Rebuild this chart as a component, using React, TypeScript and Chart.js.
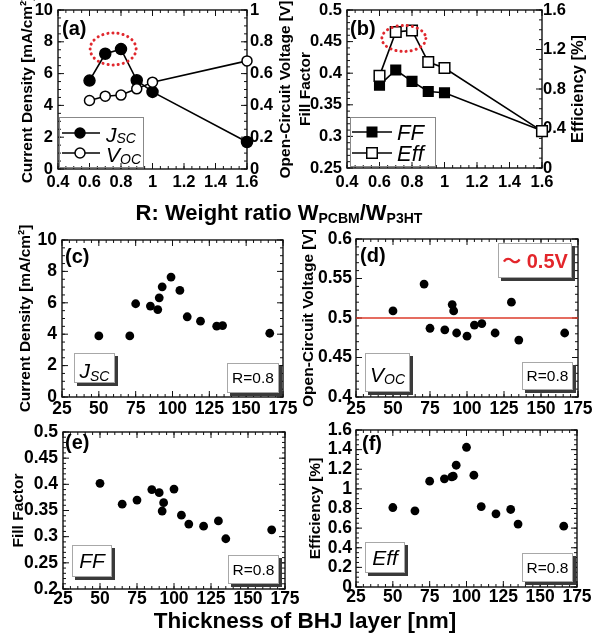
import React, { useEffect, useRef } from "react";
import { Chart, registerables } from "chart.js";

Chart.register(...registerables);

const FONT = '"Liberation Sans", Arial, Helvetica, sans-serif';
const PAGE_W = 600;
const PAGE_H = 634;

// ---------------- data ----------------
// (a), (b): vs weight ratio R
const ratioR = [0.6, 0.7, 0.8, 0.9, 1.0, 1.6];
const jscVsRatio = [5.56, 7.25, 7.54, 5.58, 4.85, 1.7];
const vocVsRatio = [0.431, 0.458, 0.465, 0.504, 0.546, 0.68];
const ffVsRatio = [0.381, 0.405, 0.387, 0.371, 0.369, 0.309];
const effVsRatio = [0.933, 1.377, 1.393, 1.073, 1.013, 0.373];

// (c)-(f): vs BHJ thickness (R = 0.8)
const thicknessJsc = [50, 71, 75, 85, 90, 91, 93, 99, 105, 110, 119, 130, 134, 166];
const jscVsThickness = [3.89, 3.89, 5.94, 5.79, 5.57, 6.32, 7.02, 7.64, 6.79, 5.11, 4.83, 4.51, 4.55, 4.06];
const thicknessVoc = [50, 71, 75, 85, 90, 91, 93, 100, 105, 110, 119, 130, 135, 166];
const vocVsThickness = [0.509, 0.543, 0.487, 0.485, 0.517, 0.509, 0.481, 0.477, 0.491, 0.493, 0.481, 0.52, 0.472, 0.481];
const thicknessFF = [50, 65, 75, 85, 90, 92, 93, 100, 105, 110, 120, 130, 135, 166];
const ffVsThickness = [0.402, 0.362, 0.37, 0.39, 0.384, 0.349, 0.365, 0.391, 0.341, 0.324, 0.32, 0.33, 0.296, 0.313];
const thicknessEff = [50, 65, 75, 85, 90, 91, 93, 100, 105, 110, 120, 130, 135, 166];
const effVsThickness = [0.81, 0.776, 1.078, 1.102, 1.122, 1.129, 1.241, 1.424, 1.139, 0.82, 0.746, 0.79, 0.641, 0.62];
const vocReferenceLine = 0.5;

// axis ranges: [min, max, major step, minor step]
const ratioAxis = [0.4, 1.6, 0.2, 0.05];
const thicknessAxis = [25, 175, 25, 5];
const jscAxis = [0, 10, 2, 0.5];
const vocRatioAxis = [0, 1, 0.2, 0.05];
const ffRatioAxis = [0.25, 0.5, 0.05, 0.01];
const effRatioAxis = [0, 1.6, 0.4, 0.1];
const vocAxis = [0.4, 0.6, 0.05, 0.01];
const ffAxis = [0.2, 0.5, 0.05, 0.01];
const effAxis = [0, 1.6, 0.2, 0.05];

// ---------------- helpers ----------------
const AXW = 40;
const AXH = 30;

const pts = (xs: number[], ys: number[]) => xs.map((x, i) => ({ x, y: ys[i] }));
const fmt = (v: any) => String(Number(Number(v).toFixed(4)));
const fnt = (size: number, weight = "normal", style = "normal", family = FONT) =>
  `${style} ${weight} ${size}px ${family}`;

type Part = { t: string; size: number; weight?: string; style?: string; dy?: number; color?: string; family?: string };

function drawRich(ctx: CanvasRenderingContext2D, parts: Part[], x: number, y: number, align: "left" | "center") {
  ctx.save();
  ctx.textBaseline = "alphabetic";
  ctx.textAlign = "left";
  let w = 0;
  for (const p of parts) {
    ctx.font = fnt(p.size, p.weight, p.style, p.family);
    w += ctx.measureText(p.t).width;
  }
  let cx = align === "center" ? x - w / 2 : x;
  for (const p of parts) {
    ctx.font = fnt(p.size, p.weight, p.style, p.family);
    ctx.fillStyle = p.color || "#000";
    ctx.fillText(p.t, cx, y + (p.dy || 0));
    cx += ctx.measureText(p.t).width;
  }
  ctx.restore();
}

function drawRotated(ctx: CanvasRenderingContext2D, text: string, cx: number, cy: number, size: number) {
  ctx.save();
  ctx.translate(cx, cy);
  ctx.rotate(-Math.PI / 2);
  ctx.font = fnt(size, "bold");
  ctx.fillStyle = "#000";
  ctx.textAlign = "center";
  ctx.textBaseline = "middle";
  ctx.fillText(text, 0, 0);
  ctx.restore();
}

function drawTicks(ctx: CanvasRenderingContext2D, scale: any, a: any, side: string, minor: number, mirror: boolean) {
  const items: [number, number][] = [];
  const n = Math.round((scale.max - scale.min) / minor);
  for (let i = 0; i <= n; i++) items.push([scale.min + i * minor, 3]);
  scale.ticks.forEach((t: any) => items.push([t.value, 6]));
  ctx.beginPath();
  for (const [v, len] of items) {
    const p = scale.getPixelForValue(v);
    if (side === "bottom") {
      ctx.moveTo(p, a.bottom);
      ctx.lineTo(p, a.bottom - len);
      if (mirror) {
        ctx.moveTo(p, a.top);
        ctx.lineTo(p, a.top + len);
      }
    } else if (side === "left") {
      ctx.moveTo(a.left, p);
      ctx.lineTo(a.left + len, p);
      if (mirror) {
        ctx.moveTo(a.right, p);
        ctx.lineTo(a.right - len, p);
      }
    } else {
      ctx.moveTo(a.right, p);
      ctx.lineTo(a.right - len, p);
    }
  }
  ctx.stroke();
}

function shadowBox(ctx: CanvasRenderingContext2D, x: number, y: number, w: number, h: number) {
  ctx.save();
  ctx.fillStyle = "#3a3a3a";
  ctx.fillRect(x + 3, y + 3, w, h);
  ctx.fillStyle = "#fff";
  ctx.fillRect(x, y, w, h);
  ctx.strokeStyle = "#a8a8a8";
  ctx.lineWidth = 1;
  ctx.strokeRect(x + 0.5, y + 0.5, w - 1, h - 1);
  ctx.restore();
}

function panelLabel(ctx: CanvasRenderingContext2D, text: string, x: number, y: number) {
  ctx.save();
  ctx.font = fnt(20, "bold");
  ctx.fillStyle = "#000";
  ctx.textAlign = "left";
  ctx.textBaseline = "middle";
  ctx.fillText(text, x, y);
  ctx.restore();
}

function rBox(ctx: CanvasRenderingContext2D, x: number, y: number, w: number, h: number) {
  shadowBox(ctx, x, y, w, h);
  ctx.save();
  ctx.font = fnt(15.5);
  ctx.fillStyle = "#000";
  ctx.textAlign = "center";
  ctx.textBaseline = "middle";
  ctx.fillText("R=0.8", x + w / 2, y + h / 2 + 1);
  ctx.restore();
}

function redEllipse(ctx: CanvasRenderingContext2D, cx: number, cy: number, rx: number, ry: number) {
  ctx.save();
  ctx.strokeStyle = "#e0282e";
  ctx.lineWidth = 3;
  ctx.lineCap = "round";
  ctx.setLineDash([0.1, 5]);
  ctx.beginPath();
  ctx.ellipse(cx, cy, rx, ry, 0, 0, Math.PI * 2);
  ctx.stroke();
  ctx.restore();
}

type Spec = {
  rect: { L: number; T: number; R: number; B: number };
  x: number[];
  y: number[];
  y2?: number[];
  tickSize: number;
  xPad: number;
  yPad: number;
  y2Pad?: number;
  yTitle: string;
  yTitleX: number;
  yTitleSize: number;
  y2Title?: string;
  y2TitleX?: number;
  y2TitleSize?: number;
  datasets: any[];
  draw: (ctx: CanvasRenderingContext2D, chart: any) => void;
};

function makeChart(canvas: HTMLCanvasElement, spec: Spec) {
  const { rect } = spec;
  const hasY2 = !!spec.y2;
  const tickFont = { family: FONT, size: spec.tickSize, weight: "bold" };
  const mk = (pos: string, r: number[], pad: number) => ({
    type: "linear",
    position: pos,
    min: r[0],
    max: r[1],
    grid: { display: false, drawTicks: false },
    border: { display: false },
    ticks: {
      stepSize: r[2],
      autoSkip: false,
      maxRotation: 0,
      minRotation: 0,
      padding: pad,
      color: "#000",
      font: tickFont,
      callback: (v: any) => fmt(v),
    },
    afterFit: (s: any) => {
      if (pos === "bottom") s.height = AXH;
      else s.width = AXW;
      s.paddingLeft = 0;
      s.paddingRight = 0;
      s.paddingTop = 0;
      s.paddingBottom = 0;
    },
  });
  const scales: any = { x: mk("bottom", spec.x, spec.xPad), y: mk("left", spec.y, spec.yPad) };
  if (hasY2) scales.y2 = mk("right", spec.y2 as number[], spec.y2Pad ?? 3);

  const decor = {
    id: "decor",
    beforeDatasetsDraw(chart: any) {
      const ctx = chart.ctx;
      const a = chart.chartArea;
      ctx.save();
      ctx.strokeStyle = "#111";
      ctx.lineWidth = 1.4;
      ctx.strokeRect(a.left, a.top, a.right - a.left, a.bottom - a.top);
      ctx.lineWidth = 1;
      drawTicks(ctx, chart.scales.x, a, "bottom", spec.x[3], true);
      drawTicks(ctx, chart.scales.y, a, "left", spec.y[3], !hasY2);
      if (hasY2) drawTicks(ctx, chart.scales.y2, a, "right", (spec.y2 as number[])[3], false);
      ctx.restore();
      const cy = (a.top + a.bottom) / 2;
      drawRotated(ctx, spec.yTitle, spec.yTitleX, cy, spec.yTitleSize);
      if (spec.y2Title) drawRotated(ctx, spec.y2Title, spec.y2TitleX as number, cy, spec.y2TitleSize as number);
    },
    afterDatasetsDraw(chart: any) {
      spec.draw(chart.ctx, chart);
    },
  };

  return new Chart(canvas, {
    type: "scatter",
    data: { datasets: spec.datasets },
    options: {
      responsive: false,
      maintainAspectRatio: false,
      animation: false,
      devicePixelRatio: 1,
      events: [],
      layout: {
        padding: {
          left: rect.L - AXW,
          top: rect.T,
          right: PAGE_W - rect.R - (hasY2 ? AXW : 0),
          bottom: PAGE_H - rect.B - AXH,
        },
      },
      scales,
      plugins: { legend: { display: false }, tooltip: { enabled: false } },
    } as any,
    plugins: [decor],
  } as any);
}

const lineDs = (data: any[], yAxisID: string, filled: boolean, style: string, radius: number) => ({
  data,
  yAxisID,
  showLine: true,
  borderColor: "#000",
  borderWidth: 1.6,
  pointStyle: style,
  pointRadius: radius,
  pointBackgroundColor: filled ? "#000" : "#fff",
  pointBorderColor: "#000",
  pointBorderWidth: 1.5,
  clip: false,
});

const dotDs = (data: any[]) => ({
  data,
  showLine: false,
  pointStyle: "circle",
  pointRadius: 4.4,
  pointBackgroundColor: "#000",
  pointBorderColor: "#000",
  pointBorderWidth: 0,
  clip: false,
});

// ---------------- panel specs ----------------
const specA: Spec = {
  rect: { L: 58, T: 10, R: 247, B: 169 },
  x: ratioAxis,
  y: jscAxis,
  y2: vocRatioAxis,
  tickSize: 16.5,
  xPad: 4,
  yPad: 5,
  y2Pad: 3,
  yTitle: "Current Density [mA/cm²]",
  yTitleX: 28,
  yTitleSize: 15.5,
  y2Title: "Open-Circuit Voltage [V]",
  y2TitleX: 286,
  y2TitleSize: 15.5,
  datasets: [
    lineDs(pts(ratioR, vocVsRatio), "y2", false, "circle", 5),
    lineDs(pts(ratioR, jscVsRatio), "y", true, "circle", 5.5),
  ],
  draw: (ctx, chart) => {
    const a = chart.chartArea;
    panelLabel(ctx, "(a)", a.left + 4, a.top + 19);
    redEllipse(ctx, chart.scales.x.getPixelForValue(0.75), chart.scales.y.getPixelForValue(7.55), 23, 16);
    // legend
    ctx.save();
    ctx.strokeStyle = "#888";
    ctx.lineWidth = 1;
    ctx.strokeRect(a.left + 1.5, a.bottom - 51.5, 84, 50);
    const rows = [
      { y: a.bottom - 36, filled: true, main: "J", sub: "SC", dy: 1 },
      { y: a.bottom - 16, filled: false, main: "V", sub: "OC", dy: 2 },
    ];
    for (const r of rows) {
      ctx.strokeStyle = "#000";
      ctx.lineWidth = 1.6;
      ctx.beginPath();
      ctx.moveTo(a.left + 4, r.y);
      ctx.lineTo(a.left + 42, r.y);
      ctx.stroke();
      ctx.beginPath();
      ctx.arc(a.left + 22, r.y, 5, 0, Math.PI * 2);
      ctx.fillStyle = r.filled ? "#000" : "#fff";
      ctx.fill();
      ctx.lineWidth = 1.5;
      ctx.stroke();
      drawRich(
        ctx,
        [
          { t: r.main, size: 21, style: "italic" },
          { t: r.sub, size: 14, style: "italic", dy: r.dy },
        ],
        a.left + 48,
        r.y + 9,
        "left"
      );
    }
    ctx.restore();
    // shared axis title for (a),(b)
    drawRich(
      ctx,
      [
        { t: "R: Weight ratio W", size: 22, weight: "bold" },
        { t: "PCBM", size: 14, weight: "bold", dy: 3 },
        { t: "/W", size: 22, weight: "bold" },
        { t: "P3HT", size: 14, weight: "bold", dy: 3 },
      ],
      279,
      220,
      "center"
    );
  },
};

const specB: Spec = {
  rect: { L: 347, T: 10, R: 542, B: 168 },
  x: ratioAxis,
  y: ffRatioAxis,
  y2: effRatioAxis,
  tickSize: 16.5,
  xPad: 5,
  yPad: 5,
  y2Pad: 1,
  yTitle: "Fill Factor",
  yTitleX: 306,
  yTitleSize: 15.5,
  y2Title: "Efficiency [%]",
  y2TitleX: 578,
  y2TitleSize: 16.5,
  datasets: [
    lineDs(pts(ratioR, effVsRatio), "y2", false, "rect", 7.5),
    lineDs(pts(ratioR, ffVsRatio), "y", true, "rect", 6.8),
  ],
  draw: (ctx, chart) => {
    const a = chart.chartArea;
    panelLabel(ctx, "(b)", a.left + 3, a.top + 19);
    redEllipse(ctx, chart.scales.x.getPixelForValue(0.75), chart.scales.y.getPixelForValue(0.455), 22, 13);
    ctx.save();
    ctx.strokeStyle = "#888";
    ctx.lineWidth = 1;
    ctx.strokeRect(a.left + 3.5, a.bottom - 50.5, 85, 49);
    const rows = [
      { y: a.bottom - 36, filled: true, text: "FF" },
      { y: a.bottom - 15, filled: false, text: "Eff" },
    ];
    for (const r of rows) {
      ctx.strokeStyle = "#000";
      ctx.lineWidth = 1.6;
      ctx.beginPath();
      ctx.moveTo(a.left + 5, r.y);
      ctx.lineTo(a.left + 45, r.y);
      ctx.stroke();
      const s = r.filled ? 9.5 : 10.5;
      ctx.fillStyle = r.filled ? "#000" : "#fff";
      ctx.fillRect(a.left + 25 - s / 2, r.y - s / 2, s, s);
      ctx.lineWidth = 1.5;
      ctx.strokeRect(a.left + 25 - s / 2, r.y - s / 2, s, s);
      drawRich(ctx, [{ t: r.text, size: 22, style: "italic" }], a.left + 50, r.y + 8, "left");
    }
    ctx.restore();
  },
};

const specC: Spec = {
  rect: { L: 62, T: 240, R: 283, B: 397 },
  x: thicknessAxis,
  y: jscAxis,
  tickSize: 17.5,
  xPad: 2,
  yPad: 5,
  yTitle: "Current Density [mA/cm²]",
  yTitleX: 26,
  yTitleSize: 15.5,
  datasets: [dotDs(pts(thicknessJsc, jscVsThickness))],
  draw: (ctx, chart) => {
    const a = chart.chartArea;
    panelLabel(ctx, "(c)", a.left + 3, a.top + 17);
    const bx = a.left + 12, by = a.top + 113, bw = 41, bh = 30;
    shadowBox(ctx, bx, by, bw, bh);
    drawRich(
      ctx,
      [
        { t: "J", size: 21, style: "italic" },
        { t: "SC", size: 14, style: "italic", dy: 3 },
      ],
      bx + bw / 2,
      by + 25,
      "center"
    );
    rBox(ctx, a.left + 165, a.top + 123, 52, 30);
  },
};

const specD: Spec = {
  rect: { L: 356, T: 239, R: 578, B: 397 },
  x: thicknessAxis,
  y: vocAxis,
  tickSize: 17.5,
  xPad: 1.5,
  yPad: 4,
  yTitle: "Open-Circuit Voltage [V]",
  yTitleX: 309,
  yTitleSize: 15.5,
  datasets: [
    dotDs(pts(thicknessVoc, vocVsThickness)),
    {
      data: [
        { x: thicknessAxis[0], y: vocReferenceLine },
        { x: thicknessAxis[1], y: vocReferenceLine },
      ],
      showLine: true,
      pointRadius: 0,
      borderColor: "#dc3b2b",
      borderWidth: 1.6,
      clip: false,
    },
  ],
  draw: (ctx, chart) => {
    const a = chart.chartArea;
    panelLabel(ctx, "(d)", a.left + 4, a.top + 17);
    const bx = a.left + 9, by = a.top + 114, bw = 45, bh = 39;
    shadowBox(ctx, bx, by, bw, bh);
    drawRich(
      ctx,
      [
        { t: "V", size: 21, style: "italic" },
        { t: "OC", size: 14, style: "italic", dy: 2 },
      ],
      bx + bw / 2,
      by + 29,
      "center"
    );
    rBox(ctx, a.left + 166, a.top + 123, 51, 28);
    const tx = a.left + 142, ty = a.top + 4, tw = 74, th = 35;
    shadowBox(ctx, tx, ty, tw, th);
    drawRich(
      ctx,
      [
        { t: "〜", size: 19, weight: "bold", color: "#e3262b", family: '"Noto Sans CJK JP", "Noto Sans CJK SC", sans-serif' },
        { t: " 0.5V", size: 20, weight: "bold", color: "#e3262b" },
      ],
      tx + tw / 2,
      ty + 25,
      "center"
    );
  },
};

const specE: Spec = {
  rect: { L: 63, T: 432, R: 285, B: 589 },
  x: thicknessAxis,
  y: ffAxis,
  tickSize: 17.5,
  xPad: 0,
  yPad: 5,
  yTitle: "Fill Factor",
  yTitleX: 19,
  yTitleSize: 15.5,
  datasets: [dotDs(pts(thicknessFF, ffVsThickness))],
  draw: (ctx, chart) => {
    const a = chart.chartArea;
    panelLabel(ctx, "(e)", a.left + 2, a.top + 11);
    const bx = a.left + 9, by = a.top + 113, bw = 40, bh = 32;
    shadowBox(ctx, bx, by, bw, bh);
    drawRich(ctx, [{ t: "FF", size: 21, style: "italic" }], bx + bw / 2, by + 23, "center");
    rBox(ctx, a.left + 165, a.top + 123, 51, 29);
    // shared axis title for (c)-(f)
    drawRich(ctx, [{ t: "Thickness of BHJ layer [nm]", size: 22.5, weight: "bold" }], 305, 628, "center");
  },
};

const specF: Spec = {
  rect: { L: 356, T: 430, R: 577, B: 587 },
  x: thicknessAxis,
  y: effAxis,
  tickSize: 17.5,
  xPad: 0,
  yPad: 4,
  yTitle: "Efficiency [%]",
  yTitleX: 316,
  yTitleSize: 15.5,
  datasets: [dotDs(pts(thicknessEff, effVsThickness))],
  draw: (ctx, chart) => {
    const a = chart.chartArea;
    panelLabel(ctx, "(f)", a.left + 6, a.top + 14);
    const bx = a.left + 9, by = a.top + 112, bw = 40, bh = 31;
    shadowBox(ctx, bx, by, bw, bh);
    drawRich(ctx, [{ t: "Eff", size: 21, style: "italic" }], bx + bw / 2, by + 23, "center");
    rBox(ctx, a.left + 166, a.top + 123, 51, 29);
  },
};

function Panel({ spec }: { spec: Spec }) {
  const ref = useRef<HTMLCanvasElement>(null);
  useEffect(() => {
    const chart = makeChart(ref.current as HTMLCanvasElement, spec);
    return () => chart.destroy();
  }, [spec]);
  return (
    <canvas
      ref={ref}
      width={PAGE_W}
      height={PAGE_H}
      style={{ position: "absolute", left: 0, top: 0, width: PAGE_W, height: PAGE_H }}
    />
  );
}

export default function App() {
  return (
    <div style={{ position: "fixed", left: 0, top: 0, width: PAGE_W, height: PAGE_H, background: "#fff" }}>
      <Panel spec={specA} />
      <Panel spec={specB} />
      <Panel spec={specC} />
      <Panel spec={specD} />
      <Panel spec={specE} />
      <Panel spec={specF} />
    </div>
  );
}
